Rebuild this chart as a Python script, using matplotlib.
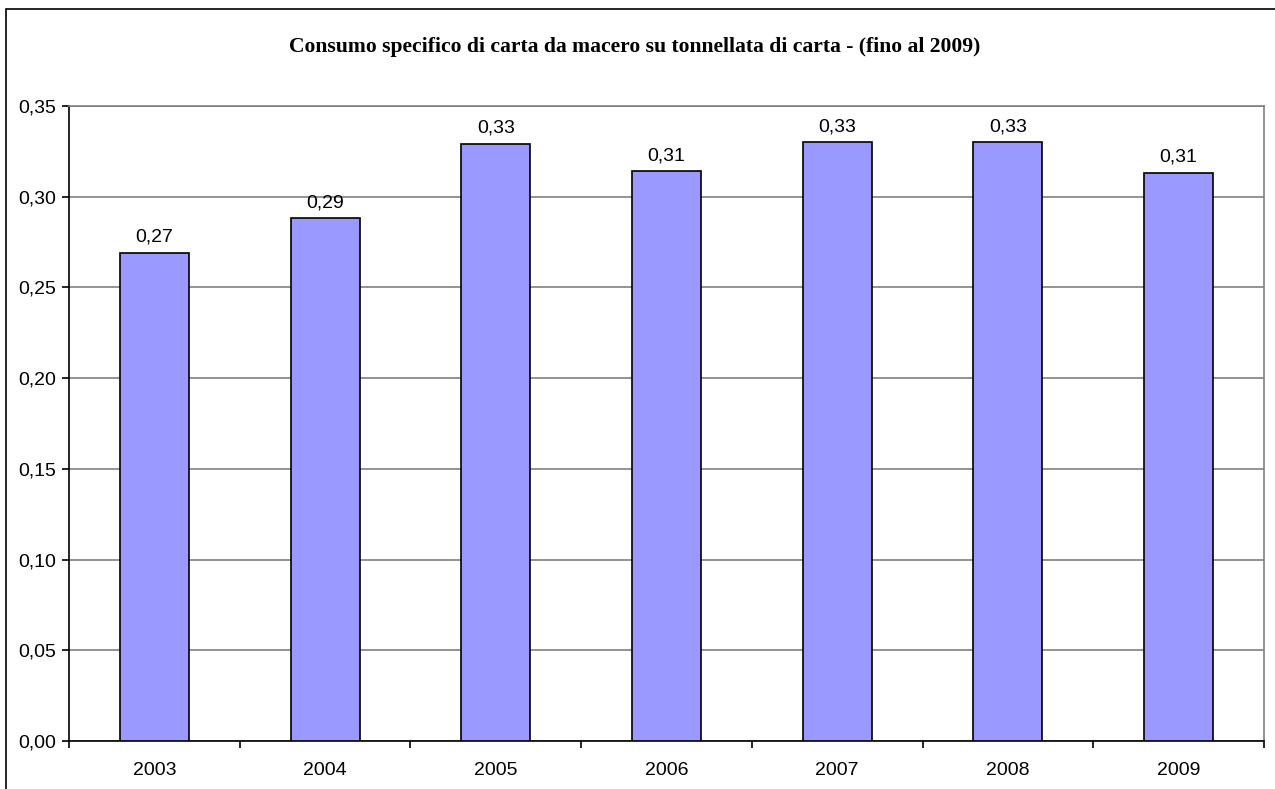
import matplotlib.pyplot as plt
from matplotlib.patches import Rectangle
from matplotlib.ticker import FuncFormatter
import numpy as np

years = ["2003", "2004", "2005", "2006", "2007", "2008", "2009"]
consumo = [0.269, 0.288, 0.329, 0.314, 0.330, 0.330, 0.313]
labels = ["0,27", "0,29", "0,33", "0,31", "0,33", "0,33", "0,31"]
y_ticks = [0.00, 0.05, 0.10, 0.15, 0.20, 0.25, 0.30, 0.35]

W, H = 1275, 789
fig = plt.figure(figsize=(W / 100, H / 100), dpi=100)
ax = fig.add_axes([69 / W, 1 - 741 / H, (1264 - 69) / W, (741 - 106) / H])

# outer chart frame
fig.patches.append(Rectangle((6 / W, -0.05), 1.2, 1 - 9 / H + 0.05, transform=fig.transFigure,
                             fill=False, edgecolor="black", linewidth=1.2))

x = np.arange(len(years))
ax.bar(x, consumo, width=0.404, color="#9999FF", edgecolor="black", linewidth=1.2, zorder=3)
for xi, v, lab in zip(x, consumo, labels):
    ax.text(xi, v + 0.004, lab, ha="center", va="bottom", fontsize=14,
            family="Liberation Sans")

ax.set_xlim(-0.5, len(years) - 0.5)
ax.set_ylim(0, 0.35)
ax.set_yticks(y_ticks)
ax.yaxis.set_major_formatter(FuncFormatter(lambda v, p: f"{v:.2f}".replace(".", ",")))
ax.grid(axis="y", color="#808080", linewidth=1.2, zorder=0)

# category labels centred, tick marks on category boundaries
ax.set_xticks(x)
ax.set_xticklabels(years)
ax.set_xticks(np.arange(-0.5, len(years)), minor=True)
ax.tick_params(axis="x", which="major", length=0, pad=15)
ax.tick_params(axis="x", which="minor", length=5, width=1.2, direction="out")
ax.tick_params(axis="y", length=5, width=1.2, direction="out", pad=4)
for lab in ax.get_xticklabels() + ax.get_yticklabels():
    lab.set_fontsize(14)
    lab.set_family("Liberation Sans")

for s in ["top", "right"]:
    ax.spines[s].set_color("#808080")
    ax.spines[s].set_linewidth(1.2)
for s in ["left", "bottom"]:
    ax.spines[s].set_color("black")
    ax.spines[s].set_linewidth(1.2)

fig.text(0.5 * (287 + 983) / W, 1 - 47 / H,
         "Consumo specifico di carta da macero su tonnellata di carta - (fino al 2009)",
         ha="center", va="center", fontsize=15.6, fontweight="bold", family="Liberation Serif")

fig.savefig("out.png", dpi=100)
